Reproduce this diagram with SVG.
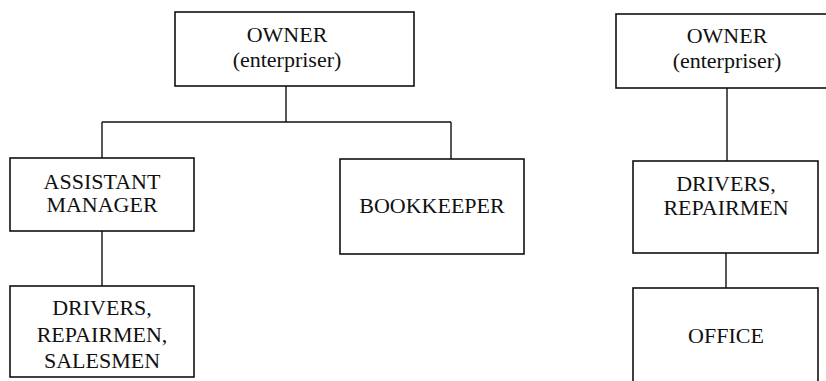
<svg xmlns="http://www.w3.org/2000/svg" width="826" height="381" viewBox="0 0 826 381">
<style>
.box{fill:#fff;stroke:#111;stroke-width:1.6}
.ln{fill:none;stroke:#111;stroke-width:1.4}
text{font-family:"Liberation Serif","Times New Roman",serif;font-size:22px;fill:#111;text-anchor:middle}
</style>
<rect width="826" height="381" fill="#fff"/>
<g id="connectors">
<path class="ln" d="M286,86 V122 M102,122 H451 M102,122 V158 M451,122 V159 M102,231 V286"/>
<path class="ln" d="M727,88 V161 M726,253 V288"/>
</g>
<g id="owner-left">
<rect class="box" x="175" y="12" width="239" height="74"/>
<text x="287" y="42">OWNER</text>
<text x="287" y="67">(enterpriser)</text>
</g>
<g id="assistant-manager">
<rect class="box" x="10" y="158" width="184" height="73"/>
<text x="102" y="189">ASSISTANT</text>
<text x="102" y="212">MANAGER</text>
</g>
<g id="bookkeeper">
<rect class="box" x="340" y="159" width="184" height="95"/>
<text x="432" y="213">BOOKKEEPER</text>
</g>
<g id="drivers-left">
<rect class="box" x="10" y="286" width="184" height="91"/>
<text x="102" y="315">DRIVERS,</text>
<text x="102" y="342">REPAIRMEN,</text>
<text x="102" y="368">SALESMEN</text>
</g>
<g id="owner-right">
<rect class="box" x="616" y="14" width="222" height="74"/>
<text x="727" y="43">OWNER</text>
<text x="727" y="68">(enterpriser)</text>
</g>
<g id="drivers-right">
<rect class="box" x="633" y="161" width="185" height="92"/>
<text x="726" y="191">DRIVERS,</text>
<text x="726" y="215">REPAIRMEN</text>
</g>
<g id="office">
<rect class="box" x="633" y="288" width="185" height="100"/>
<text x="726" y="343">OFFICE</text>
</g>
</svg>
